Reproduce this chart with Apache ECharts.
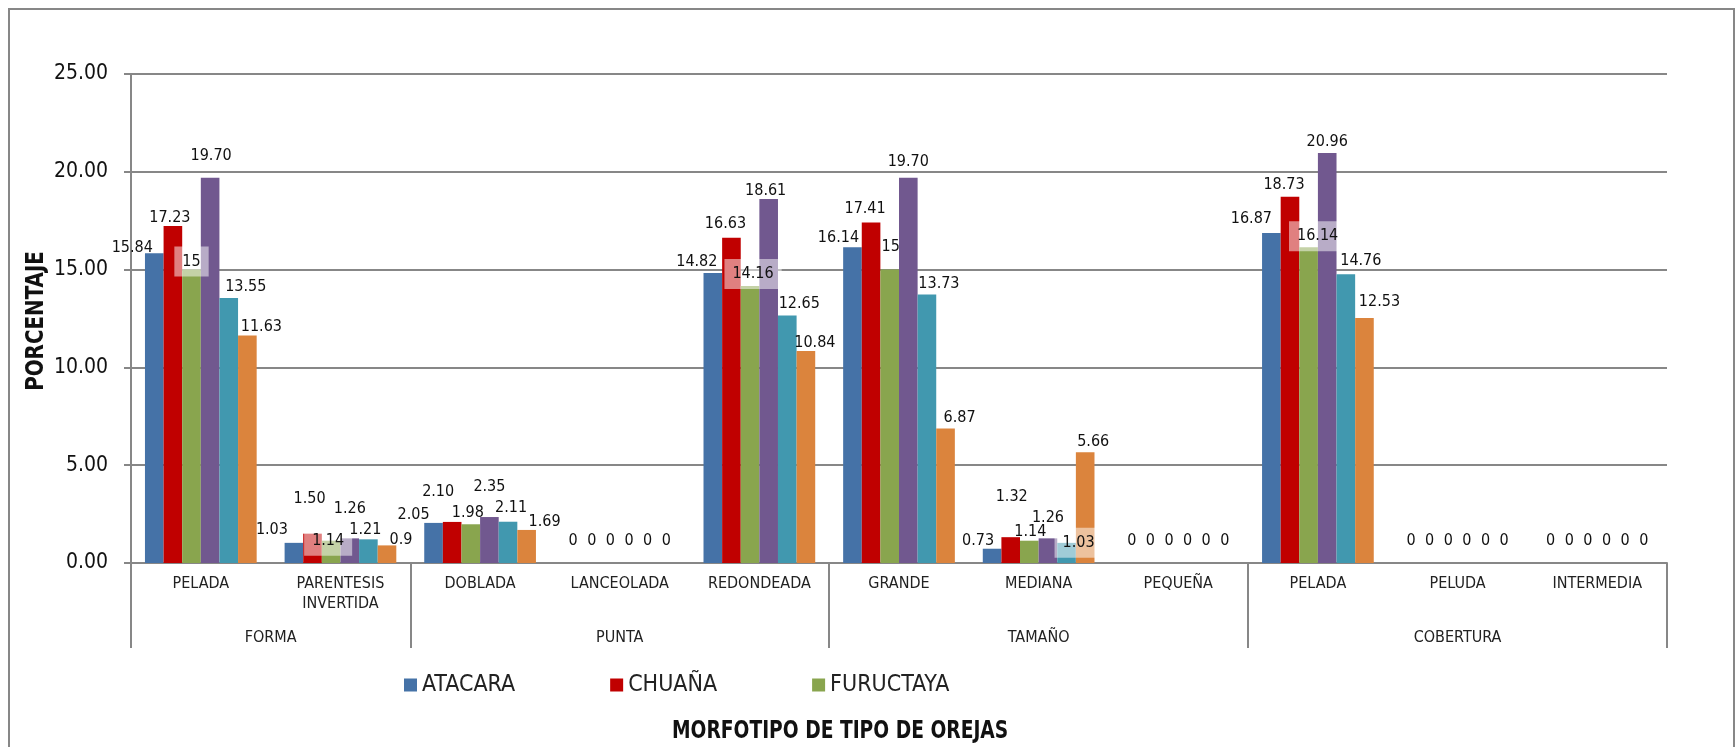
<!DOCTYPE html>
<html>
<head>
<meta charset="utf-8">
<script src="https://cdn.jsdelivr.net/npm/echarts@6/dist/echarts.min.js"></script>
<style>
  html, body { margin: 0; padding: 0; background: #fff; }
  #chart { width: 1735px; height: 747px; }
</style>
</head>
<body>
<div id="chart"></div>
<script>
// categories (first row) and their groups (second row)
const categories = ['PELADA', 'PARENTESIS\nINVERTIDA', 'DOBLADA', 'LANCEOLADA', 'REDONDEADA',
  'GRANDE', 'MEDIANA', 'PEQUEÑA', 'PELADA', 'PELUDA', 'INTERMEDIA'];
const groupNames = ['FORMA', 'PUNTA', 'TAMAÑO', 'COBERTURA'];
const groupBounds = [0, 2, 5, 8, 11];
const groupMids = [1, 3.5, 6.5, 9.5];

// values as printed on the chart
const atacara = ['15.84', '1.03', '2.05', '0', '14.82', '16.14', '0.73', '0', '16.87', '0', '0'];
const chuana = ['17.23', '1.50', '2.10', '0', '16.63', '17.41', '1.32', '0', '18.73', '0', '0'];
const fuructaya = ['15', '1.14', '1.98', '0', '14.16', '15', '1.14', '0', '16.14', '0', '0'];
const serie4 = ['19.70', '1.26', '2.35', '0', '18.61', '19.70', '1.26', '0', '20.96', '0', '0'];
const serie5 = ['13.55', '1.21', '2.11', '0', '12.65', '13.73', '1.03', '0', '14.76', '0', '0'];
const serie6 = ['11.63', '0.9', '1.69', '0', '10.84', '6.87', '5.66', '0', '12.53', '0', '0'];

const FONT = "'DejaVu Sans Condensed', 'Liberation Sans', sans-serif";
const GRAY = '#878787';

// where the labels were dragged to in the original (px from the top centre of each bar)
const Z = [0, -22];
const labelNudge = {
  'ATACARA': [[-22, -5], [-22, -13], [-20, -8], Z, [-16, -11], [-14, -9], [-14, -8], Z, [-20, -14], Z, Z],
  'CHUAÑA': [[-3, -8], [-3, -35], [-14, -30], Z, [-6, -14], [-6, -14], [1, -40], Z, [-6, -12], Z, Z],
  'FURUCTAYA': [[0, -8], [-3, 0], [-3, -11], Z, [3, -12], [1, -23], [1, -9], Z, [9, -11], Z, Z],
  'Serie 4': [[1, -22], [0, -30], [0, -30], Z, [-3, -8], [0, -16], [0, -21], Z, [0, -11], Z, Z],
  'Serie 5': [[17, -11], [-3, -9], [3, -14], Z, [12, -12], [12, -11], [12, 0], Z, [15, -13], Z, Z],
  'Serie 6': [[14, -9], [14, -6], [18, -8], Z, [9, -8], [14, -11], [8, -10], Z, [15, -16], Z, Z]
};
// labels that carry a pale selection box
const boxed = { 'FURUCTAYA': [0, 1, 4, 8], 'Serie 5': [6] };

const seriesDefs = [
  { name: 'ATACARA', data: atacara, color: '#4572A7' },
  { name: 'CHUAÑA', data: chuana, color: '#C00000' },
  { name: 'FURUCTAYA', data: fuructaya, color: '#89A54E' },
  { name: 'Serie 4', data: serie4, color: '#71588F' },
  { name: 'Serie 5', data: serie5, color: '#4198AF' },
  { name: 'Serie 6', data: serie6, color: '#DB843D' }
];

const myChart = echarts.init(document.getElementById('chart'));

function buildData(s) {
  return s.data.map((txt, i) => {
    const lab = { offset: labelNudge[s.name][i] };
    if ((boxed[s.name] || []).indexOf(i) >= 0) {
      lab.backgroundColor = 'rgba(255,255,255,0.5)';
      lab.padding = [7, 8];
    }
    return { value: parseFloat(txt), label: lab };
  });
}

const option = {
  animation: false,
  textStyle: { fontFamily: FONT },
  legend: {
    data: ['ATACARA', 'CHUAÑA', 'FURUCTAYA'],
    left: 404, top: 672, padding: 0,
    itemWidth: 13, itemHeight: 13, itemGap: 95,
    icon: 'rect',
    textStyle: { fontFamily: FONT, fontSize: 23, color: '#222', lineHeight: 26 }
  },
  grid: { left: 131, right: 68, top: 74, bottom: 184, containLabel: false },
  xAxis: [
    {
      type: 'category',
      data: categories,
      axisLine: { lineStyle: { color: GRAY, width: 2 } },
      axisTick: { show: false },
      axisLabel: { interval: 0, margin: 11, fontFamily: FONT, fontSize: 16, lineHeight: 20, color: '#222' }
    },
    {
      type: 'value',
      position: 'bottom',
      min: 0, max: 11,
      axisLine: { show: false },
      splitLine: { show: false },
      axisTick: { show: true, customValues: groupBounds, length: 85, lineStyle: { color: GRAY, width: 2 } },
      axisLabel: {
        customValues: groupMids,
        formatter: v => groupNames[groupMids.indexOf(v)],
        margin: 67, fontFamily: FONT, fontSize: 16, color: '#222'
      }
    }
  ],
  yAxis: {
    type: 'value',
    min: 0, max: 25, interval: 5,
    axisLine: { show: true, lineStyle: { color: GRAY, width: 2 } },
    axisTick: { show: true, length: 7, lineStyle: { color: GRAY, width: 2 } },
    axisLabel: { margin: 23, fontFamily: FONT, fontSize: 21, color: '#111', formatter: v => v.toFixed(2) },
    splitLine: { lineStyle: { color: GRAY, width: 2 } }
  },
  graphic: [
    {
      type: 'rect', silent: true,
      shape: { x: 9, y: 9, width: 1725, height: 800 },
      style: { fill: 'none', stroke: GRAY, lineWidth: 2 }
    },
    {
      type: 'text', x: 37, y: 321, rotation: Math.PI / 2, scaleX: 0.92,
      style: { text: 'PORCENTAJE', fontFamily: FONT, fontSize: 24, fontWeight: 'bold', fill: '#111', align: 'center', verticalAlign: 'middle' }
    },
    {
      type: 'text', x: 672, y: 731, scaleX: 0.83,
      style: { text: 'MORFOTIPO DE TIPO DE OREJAS', fontFamily: FONT, fontSize: 25, fontWeight: 'bold', fill: '#111', align: 'left', verticalAlign: 'middle' }
    }
  ],
  series: seriesDefs.map(s => ({
    name: s.name,
    type: 'bar',
    barGap: '0%',
    barCategoryGap: '20%',
    itemStyle: { color: s.color },
    label: {
      show: true, position: 'top', distance: 0, verticalAlign: 'middle',
      fontFamily: FONT, fontSize: 16, color: '#111',
      formatter: p => s.data[p.dataIndex]
    },
    data: buildData(s)
  }))
};

myChart.setOption(option);
window.addEventListener('resize', () => {
  myChart.resize();
});
</script>
</body>
</html>
